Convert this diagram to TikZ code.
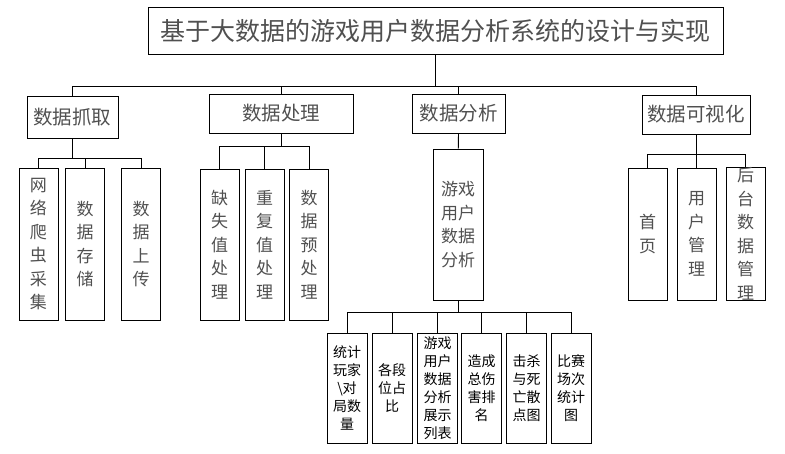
\documentclass[tikz,border=0pt]{standalone}
\usepackage{fontspec}
\newfontfamily\cjk{Noto Sans CJK SC}
\definecolor{txtgray}{RGB}{80,80,80}

\begin{document}
\begin{tikzpicture}[x=1pt,y=-1pt,line width=0.8pt,
  box/.style={draw,inner sep=0pt,align=center,text=txtgray},
  headbox/.style={box,font=\cjk\fontsize{25}{30}\selectfont},
  groupbox/.style={box,font=\cjk\fontsize{19.5}{24}\selectfont},
  leafbox/.style={box,minimum width=39pt,font=\cjk\fontsize{17}{23.5}\selectfont},
  chartbox/.style={box,text=black,minimum width=40pt,minimum height=110pt,font=\cjk\fontsize{14}{18}\selectfont}]
\useasboundingbox (0,0) rectangle (785,453);

\node[headbox,minimum width=575pt,minimum height=47pt] (sys) at (435.5,30.5) {基于大数据的游戏用户数据分析系统的设计与实现};

\node[groupbox,minimum width=91pt,minimum height=42pt] (grab) at (72.5,117) {数据抓取};
\node[groupbox,minimum width=144pt,minimum height=39pt] (proc) at (281,113.5) {数据处理};
\node[groupbox,minimum width=93pt,minimum height=39pt] (anal) at (458.5,113.5) {数据分析};
\node[groupbox,minimum width=108pt,minimum height=39pt] (vis) at (696,114.5) {数据可视化};

\node[leafbox,minimum height=152pt] (crawl) at (38.5,244) {网\\络\\爬\\虫\\采\\集};
\node[leafbox,minimum height=152pt] (store) at (85,244) {数\\据\\存\\储};
\node[leafbox,minimum height=152pt] (upload) at (141,244) {数\\据\\上\\传};

\node[leafbox,minimum height=151pt] (missing) at (219.5,244.5) {缺\\失\\值\\处\\理};
\node[leafbox,minimum height=151pt] (dup) at (264.5,244.5) {重\\复\\值\\处\\理};
\node[leafbox,minimum height=151pt] (pre) at (309,244.5) {数\\据\\预\\处\\理};

\node[leafbox,minimum width=50pt,minimum height=151pt] (game) at (458,224.5) {游戏\\用户\\数据\\分析};

\node[leafbox,minimum height=132pt] (home) at (647.5,234) {首\\页};
\node[leafbox,minimum height=132pt] (user) at (696.5,234) {用\\户\\管\\理};
\node[leafbox,minimum height=132pt] (admin) at (745.5,234) {后\\台\\数\\据\\管\\理};

\node[chartbox] (count) at (347,388) {统计\\玩家\\\textbackslash 对\\局数\\量};
\node[chartbox] (rank) at (392,388) {各段\\位占\\比};
\node[chartbox] (list) at (437.5,388) {游戏\\用户\\数据\\分析\\展示\\列表};
\node[chartbox] (dmg) at (481.5,388) {造成\\总伤\\害排\\名};
\node[chartbox] (kill) at (526.5,388) {击杀\\与死\\亡散\\点图};
\node[chartbox] (match) at (571,388) {比赛\\场次\\统计\\图};

% trunk
\coordinate (trunk) at (435.5,86);
\draw (sys) -- (trunk);
\draw (trunk) -| (grab);
\draw (trunk) -| (proc);
\draw (trunk) -| (anal);
\draw (trunk) -| (vis);

% grab
\coordinate (grabbus) at (72.5,158);
\draw (grab) -- (grabbus);
\draw (grabbus) -| (crawl);
\draw (grabbus) -| (store);
\draw (grabbus) -| (upload);

% proc
\coordinate (procbus) at (281,146);
\draw (proc) -- (procbus);
\draw (procbus) -| (missing);
\draw (procbus) -| (dup);
\draw (procbus) -| (pre);

% anal
\draw (anal) -- (game);
\coordinate (gamebus) at (458,312);
\draw (game) -- (gamebus);
\draw (gamebus) -| (count);
\draw (gamebus) -| (rank);
\draw (gamebus) -| (list);
\draw (gamebus) -| (dmg);
\draw (gamebus) -| (kill);
\draw (gamebus) -| (match);

% vis
\coordinate (visbus) at (696,154);
\draw (vis) -- (visbus);
\draw (visbus) -| (home);
\draw (visbus) -| (user);
\draw (visbus) -| (admin);
\end{tikzpicture}
\end{document}
